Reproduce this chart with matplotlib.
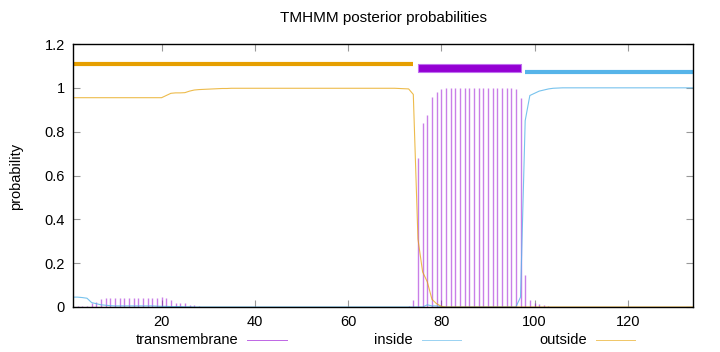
import numpy as np
import matplotlib
matplotlib.use("Agg")
import matplotlib.pyplot as plt
from matplotlib.lines import Line2D

plt.rcParams['font.family'] = ['Liberation Sans', 'DejaVu Sans']

# posterior probabilities per residue (1..134)
transmembrane = [
    0.005, 0.005, 0.005, 0.006, 0.02, 0.022, 0.035, 0.04, 0.04, 0.042,
    0.043, 0.043, 0.043, 0.043, 0.043, 0.043, 0.043, 0.043, 0.043, 0.045,
    0.04, 0.03, 0.02, 0.02, 0.017, 0.01, 0.01, 0.005, 0.002, 0.001,
    0.001, 0.001, 0.0, 0.0, 0.0, 0.0, 0.0, 0.0, 0.0, 0.0,
    0.0, 0.0, 0.0, 0.0, 0.0, 0.0, 0.0, 0.0, 0.0, 0.0,
    0.0, 0.0, 0.0, 0.0, 0.0, 0.0, 0.0, 0.0, 0.0, 0.0,
    0.0, 0.0, 0.0, 0.0, 0.0, 0.0, 0.0, 0.0, 0.0, 0.0,
    0.001, 0.002, 0.005, 0.03, 0.68, 0.84, 0.875, 0.96, 0.98, 0.995,
    0.999, 0.999, 0.999, 0.999, 0.999, 0.999, 0.999, 0.999, 0.999, 0.999,
    0.999, 0.999, 0.999, 0.999, 0.999, 0.995, 0.955, 0.146, 0.03, 0.02,
    0.012, 0.008, 0.005, 0.0, 0.0, 0.0, 0.0, 0.0, 0.0, 0.0,
    0.0, 0.0, 0.0, 0.0, 0.0, 0.0, 0.0, 0.0, 0.0, 0.0,
    0.0, 0.0, 0.0, 0.0, 0.0, 0.0, 0.0, 0.0, 0.0, 0.0,
    0.0, 0.0, 0.0, 0.0,
]
inside = [
    0.045, 0.045, 0.043, 0.04, 0.02, 0.015, 0.01, 0.008, 0.006, 0.005,
    0.005, 0.005, 0.005, 0.005, 0.005, 0.005, 0.005, 0.005, 0.004, 0.003,
    0.003, 0.002, 0.002, 0.002, 0.001, 0.001, 0.0, 0.0, 0.0, 0.0,
    0.0, 0.0, 0.0, 0.0, 0.0, 0.0, 0.0, 0.0, 0.0, 0.0,
    0.0, 0.0, 0.0, 0.0, 0.0, 0.0, 0.0, 0.0, 0.0, 0.0,
    0.0, 0.0, 0.0, 0.0, 0.0, 0.0, 0.0, 0.0, 0.0, 0.0,
    0.0, 0.0, 0.0, 0.0, 0.0, 0.0, 0.0, 0.0, 0.0, 0.0,
    0.0, 0.0, 0.0, 0.0, 0.0, 0.0, 0.01, 0.005, 0.005, 0.002,
    0.0, 0.0, 0.0, 0.0, 0.0, 0.0, 0.0, 0.0, 0.0, 0.0,
    0.0, 0.0, 0.0, 0.0, 0.0, 0.0, 0.045, 0.85, 0.965, 0.975,
    0.985, 0.99, 0.995, 0.998, 0.999, 1.0, 1.0, 1.0, 1.0, 1.0,
    1.0, 1.0, 1.0, 1.0, 1.0, 1.0, 1.0, 1.0, 1.0, 1.0,
    1.0, 1.0, 1.0, 1.0, 1.0, 1.0, 1.0, 1.0, 1.0, 1.0,
    1.0, 1.0, 1.0, 1.0,
]
outside = [
    0.955, 0.955, 0.955, 0.955, 0.955, 0.955, 0.955, 0.955, 0.955, 0.955,
    0.955, 0.955, 0.955, 0.955, 0.955, 0.955, 0.955, 0.955, 0.955, 0.955,
    0.965, 0.975, 0.977, 0.977, 0.978, 0.985, 0.99, 0.992, 0.993, 0.994,
    0.995, 0.996, 0.997, 0.997, 0.998, 0.998, 0.998, 0.998, 0.998, 0.998,
    0.998, 0.998, 0.998, 0.998, 0.998, 0.998, 0.998, 0.998, 0.998, 0.998,
    0.998, 0.998, 0.998, 0.998, 0.998, 0.998, 0.998, 0.998, 0.998, 0.998,
    0.998, 0.998, 0.998, 0.998, 0.998, 0.998, 0.998, 0.998, 0.998, 0.998,
    0.997, 0.996, 0.995, 0.97, 0.31, 0.16, 0.115, 0.035, 0.015, 0.003,
    0.0, 0.0, 0.0, 0.0, 0.0, 0.0, 0.0, 0.0, 0.0, 0.0,
    0.0, 0.0, 0.0, 0.0, 0.0, 0.0, 0.0, 0.0, 0.0, 0.0,
    0.0, 0.0, 0.0, 0.0, 0.0, 0.0, 0.0, 0.0, 0.0, 0.0,
    0.0, 0.0, 0.0, 0.0, 0.0, 0.0, 0.0, 0.0, 0.0, 0.0,
    0.0, 0.0, 0.0, 0.0, 0.0, 0.0, 0.0, 0.0, 0.0, 0.0,
    0.0, 0.0, 0.0, 0.0,
]
residues = np.arange(1, len(transmembrane) + 1)

# predicted topology segments (start, end)
outside_seg = (1, 74)
tm_seg = (75, 97)
inside_seg = (98, 134)

purple = '#9400d3'
blue = '#56b4e9'
orange = '#e69f00'

fig = plt.figure(figsize=(7.2, 3.52), dpi=100)
ax = fig.add_axes([73 / 720, 1 - 307 / 352, 620 / 720, 263 / 352])

ax.vlines(residues, 0, transmembrane, color=purple, lw=1.0, alpha=0.5)
ax.plot(residues, inside, color=blue, lw=0.8, alpha=0.8)
ax.plot(residues, outside, color=orange, lw=0.8, alpha=0.7)

# topology summary at the top
ax.plot(outside_seg, [1.11, 1.11], color=orange, lw=3, solid_capstyle='butt')
ax.fill_between(tm_seg, 1.07, 1.11, color=purple, lw=0.8, edgecolor='#c070f0')
ax.plot(inside_seg, [1.07, 1.07], color=blue, lw=3, solid_capstyle='butt')

ax.set_xlim(1, 134)
ax.set_ylim(0, 1.2)
ax.set_xticks([20, 40, 60, 80, 100, 120])
ax.set_yticks([0, 0.2, 0.4, 0.6, 0.8, 1.0, 1.2])
ax.set_yticklabels(['0', '0.2', '0.4', '0.6', '0.8', '1', '1.2'])
ax.tick_params(direction='in', length=5, width=0.8, color='0.6', labelcolor='black',
               labelsize=10.5, top=True, right=True, pad=6)
for s in ax.spines.values():
    s.set_color('black')
    s.set_linewidth(1.0)

fig.text(383 / 720, 1 - 18 / 352, 'TMHMM posterior probabilities', ha='center', va='center', fontsize=11)
fig.text(16 / 720, 0.5, 'probability', rotation=90, ha='center', va='center', fontsize=10.5)

# gnuplot-style key below the plot: label then sample
legend_items = [('transmembrane', purple, 238, 247, 287),
                ('inside', blue, 413, 422, 461),
                ('outside', orange, 587, 596, 635)]
ly = 1 - 340 / 352
for label, col, tx, x0, x1 in legend_items:
    fig.text(tx / 720, ly, label, ha='right', va='center', fontsize=10.5)
    fig.add_artist(Line2D([x0 / 720, x1 / 720], [ly, ly], color=col, lw=0.7, alpha=0.6))

fig.savefig('out.png', dpi=100)
